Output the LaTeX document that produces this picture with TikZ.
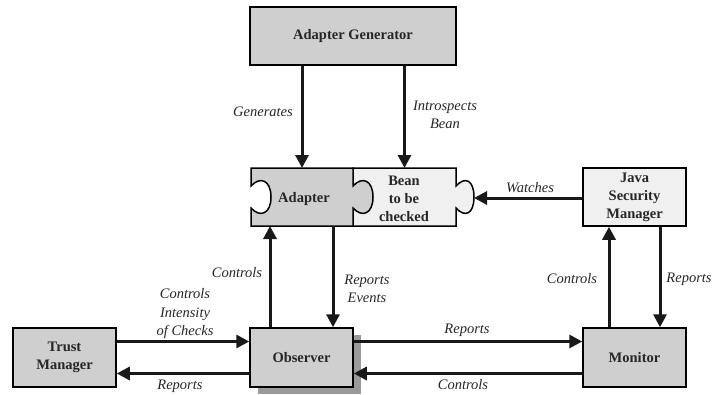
\documentclass[tikz,border=0pt]{standalone}
\usepackage{fontspec}
\setmainfont{Liberation Serif}
\usetikzlibrary{arrows.meta}
\definecolor{boxgray}{HTML}{CFCFCF}
\definecolor{boxlight}{HTML}{F0F0F0}
\definecolor{shadowgray}{HTML}{9A9A9A}
\begin{document}
\begin{tikzpicture}[x=1pt,y=-1pt,
  every node/.style={font=\fontsize{14.5}{18}\selectfont},
  box/.style={draw=black, line width=1.5pt, align=center, inner sep=0pt,
    font=\fontsize{14.5}{18}\selectfont\bfseries, text=black!85},
  plain/.style={align=center, inner sep=0pt, outer sep=0pt,
    font=\fontsize{14.5}{18}\selectfont\bfseries, text=black!85},
  lbl/.style={align=center, inner sep=0pt,
    font=\fontsize{14.5}{18.5}\selectfont\itshape, text=black!85},
  arr/.style={line width=3pt, black!90, -{Triangle[length=13pt,width=13pt]}},
  puzzle/.style={draw=black, line width=1.5pt, line join=miter}
]
\useasboundingbox (0,0) rectangle (714,394);

% shadow of observer
\fill[shadowgray] (258,335) rectangle (361,394);

% boxes
\node[box, fill=boxgray, minimum width=206pt, minimum height=58pt] (ag) at (353,36) {Adapter Generator};
\node[box, fill=boxlight, minimum width=103pt, minimum height=58pt] (jsm) at (634.5,197) {Java\\Security\\Manager};
\node[box, fill=boxgray, minimum width=103pt, minimum height=59pt] (tm) at (64.5,357.5) {Trust\\Manager};
\node[box, fill=boxgray, minimum width=103pt, minimum height=59pt] (obs) at (301.5,357.5) {Observer};
\node[box, fill=boxgray, minimum width=103pt, minimum height=59pt] (mon) at (634.5,357.5) {Monitor};

% puzzle pieces: bean (light) then adapter (gray) on top
\draw[puzzle, fill=boxlight] (353,168) -- (456,168) -- (456,186)
  .. controls (465,176) and (474,180) .. (474,197)
  .. controls (474,214) and (465,218) .. (456,208)
  -- (456,226) -- (353,226) -- cycle;
\draw[puzzle, fill=boxgray] (251,168) -- (353,168) -- (353,186)
  .. controls (362,176) and (373,180) .. (373,197)
  .. controls (373,214) and (362,218) .. (353,208)
  -- (353,226) -- (251,226) -- (251,208)
  .. controls (260,218) and (271,214) .. (271,197)
  .. controls (271,180) and (260,176) .. (251,186) -- cycle;
\node[plain, minimum width=102pt, minimum height=58pt] (ad) at (302,197) {};
\node[plain] (adtxt) at (304,199) {Adapter};
\node[plain, minimum width=103pt, minimum height=58pt] (bean) at (404.5,197) {};
\node[plain] (beantxt) at (404,199) {Bean\\to be\\checked};
\coordinate (knob) at (474,198);

% connectors
\draw[arr] (ag.south -| ad.center) -- (ad.north);
\draw[arr] (ag.south -| bean.center) -- (bean.north);
\draw[arr] ([yshift=-1pt]jsm.west) -- (knob);
\draw[arr] ([xshift=-31.5pt]obs.north) -- ([xshift=-31.5pt]obs.north |- ad.south);
\draw[arr] ([xshift=31.5pt]obs.north |- ad.south) -- ([xshift=31.5pt]obs.north);
\draw[arr] ([yshift=16pt]tm.east) -- ([yshift=16pt]obs.west);
\draw[arr] ([yshift=-16pt]obs.west) -- ([yshift=-16pt]tm.east);
\draw[arr] ([yshift=16pt]obs.east) -- ([yshift=16pt]mon.west);
\draw[arr] ([yshift=-16pt]mon.west) -- ([yshift=-16pt]obs.east);
\draw[arr] ([xshift=-25.5pt]mon.north) -- ([xshift=-25.5pt]jsm.south);
\draw[arr] ([xshift=25.5pt]jsm.south) -- ([xshift=25.5pt]mon.north);

% labels
\node[lbl] (l1) at (263,112) {Generates};
\node[lbl] (l2) at (445,115) {Introspects\\Bean};
\node[lbl] (l3) at (530,188) {Watches};
\node[lbl] (l4) at (237,273) {Controls};
\node[lbl] (l5) at (367,289) {Reports\\Events};
\node[lbl] (l6) at (185,314) {Controls\\Intensity\\of Checks};
\node[lbl] (l7) at (180,386) {Reports};
\node[lbl] (l8) at (467,330) {Reports};
\node[lbl] (l9) at (463,385) {Controls};
\node[lbl] (l10) at (572,279) {Controls};
\node[lbl] (l11) at (689,279) {Reports};
\end{tikzpicture}
\end{document}
